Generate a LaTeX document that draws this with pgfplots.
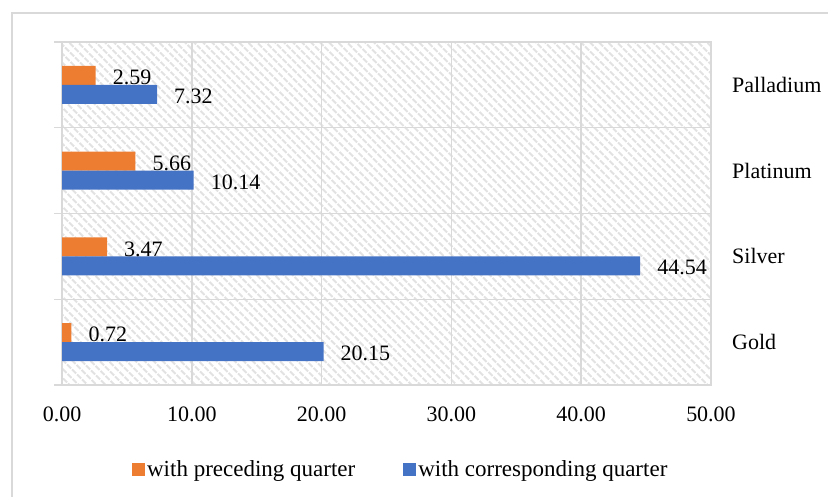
\documentclass[border=0pt]{standalone}
\usepackage{fontspec}
\setmainfont{Liberation Serif}
\usepackage{pgfplots}
\pgfplotsset{compat=1.18}
\usetikzlibrary{patterns.meta}
\definecolor{barorange}{HTML}{ED7D31}
\definecolor{barblue}{HTML}{4472C4}
\definecolor{gridgray}{HTML}{D9D9D9}
\definecolor{hatchgray}{HTML}{E2E2E2}
\newcommand{\chartfont}{\fontsize{22pt}{26pt}\selectfont}
\newcommand{\legfont}{\fontsize{23pt}{27pt}\selectfont}

\begin{document}
\begin{tikzpicture}
\useasboundingbox (0,0) rectangle (828pt,496pt);
% outer frame of the figure box
\draw[gridgray, line width=1.5pt] (12pt,-10pt) -- (12pt,483pt) -- (840pt,483pt);

\begin{axis}[%
at={(62pt,111pt)}, anchor=south west,
scale only axis,
width=649pt,
height=343pt,
xbar,
bar width=19pt,
xmin=0, xmax=50,
xtick={0,10,...,50},
ymin=-0.5, ymax=3.5,
ytick={0,1,2,3},
yticklabels={Gold,Silver,Platinum,Palladium},
yticklabel pos=right,
major tick length=0pt,
tick style={draw=none},
xmajorgrids,
grid style={gridgray, line width=1.5pt},
axis line style={gridgray, line width=1.5pt},
axis background/.style={pattern={Lines[angle=-45,distance=6.4pt,line width=2.4pt]}, pattern color=hatchgray},
x tick label style={font=\chartfont, inner sep=0pt, anchor=north, yshift=-22pt,
  /pgf/number format/.cd, fixed, fixed zerofill, precision=2},
y tick label style={font=\chartfont, inner sep=0pt, anchor=west, xshift=21pt},
/pgf/number format/assume math mode=true,
point meta=x,
nodes near coords={\pgfmathprintnumber[fixed,fixed zerofill,precision=2]{\pgfplotspointmeta}},
every node near coord/.append style={font=\chartfont, text=black, anchor=west, inner sep=0pt, xshift=17pt, yshift=-2pt},
clip=false,
legend columns=2,
legend style={at={(axis description cs:0.522,-0.245)}, anchor=center, draw=none, fill=none,
  font=\legfont, /tikz/every even column/.append style={column sep=46pt}},
]
\addplot[fill=barorange, draw=none, bar shift=9.5pt,
  legend image code/.code={\fill[barorange] (0pt,-6.5pt) rectangle (13pt,6.5pt);}]
  coordinates {(0.72,0) (3.47,1) (5.66,2) (2.59,3)};
\addlegendentry{with preceding quarter}

\addplot[fill=barblue, draw=none, bar shift=-9.5pt,
  legend image code/.code={\fill[barblue] (0pt,-6.5pt) rectangle (13pt,6.5pt);}]
  coordinates {(20.15,0) (44.54,1) (10.14,2) (7.32,3)};
\addlegendentry{with corresponding quarter}

% category separators with short outward ticks
\pgfplotsinvokeforeach{-0.5,0.5,1.5,2.5,3.5}{
  \draw[gridgray, line width=1.5pt] ([xshift=-8pt]axis cs:0,#1) -- (axis cs:50,#1);
}
\end{axis}
\end{tikzpicture}
\end{document}
